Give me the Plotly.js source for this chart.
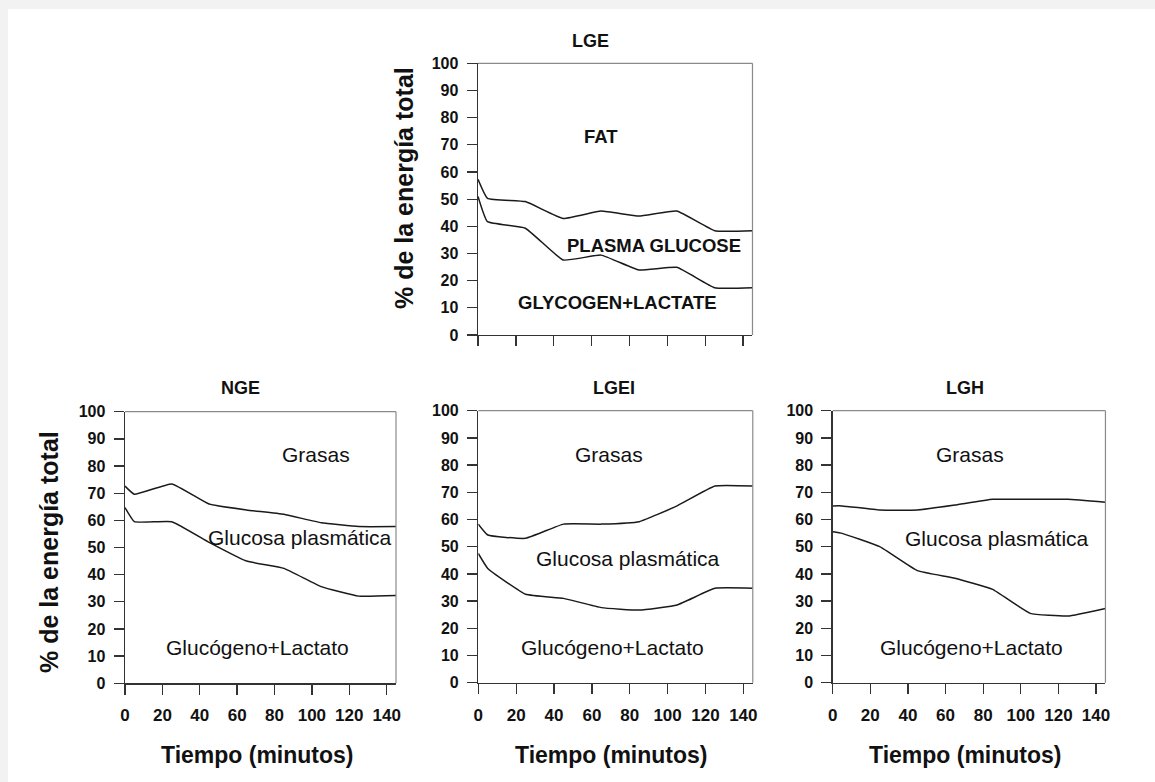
<!DOCTYPE html>
<html>
<head>
<meta charset="utf-8">
<script src="https://cdn.plot.ly/plotly-3.0.1.min.js"></script>
<style>html,body{margin:0;padding:0;background:#f2f2f2;}#chart{width:1155px;height:782px;}</style>
</head>
<body>
<div id="chart"></div>
<script>
// ---- data ----
const tiempo = [0, 5, 25, 45, 65, 85, 105, 125, 145];
const xTicks = [0, 20, 40, 60, 80, 100, 120, 140];
const yTicks = [0, 10, 20, 30, 40, 50, 60, 70, 80, 90, 100];

const panelNames = ["LGE", "NGE", "LGEI", "LGH"];

const lgeGrasaLimite = [57.3, 50.3, 49.1, 42.9, 45.6, 43.8, 45.6, 38.4, 38.4];
const lgeGlucogenoLimite = [51.0, 41.7, 39.3, 27.6, 29.4, 23.9, 24.9, 17.4, 17.4];

const ngeGrasaLimite = [72.6, 69.6, 73.4, 66.0, 63.8, 62.2, 59.1, 57.7, 57.7];
const ngeGlucogenoLimite = [64.7, 59.5, 59.5, 51.9, 45.0, 42.3, 35.6, 32.1, 32.3];

const lgeiGrasaLimite = [58.3, 54.3, 53.1, 58.3, 58.3, 59.2, 65.0, 72.3, 72.3];
const lgeiGlucogenoLimite = [47.5, 42.0, 32.5, 31.0, 27.6, 26.7, 28.6, 34.7, 34.7];

const lghGrasaLimite = [65.0, 65.0, 63.5, 63.5, 65.3, 67.4, 67.4, 67.4, 66.3];
const lghGlucogenoLimite = [55.5, 54.9, 50.0, 41.2, 38.4, 34.3, 25.5, 24.5, 27.3];

const topLabels = ["FAT", "PLASMA GLUCOSE", "GLYCOGEN+LACTATE"];
const bottomLabels = ["Grasas", "Glucosa plasmática", "Glucógeno+Lactato"];
const yTitle = "% de la energía total";
const xTitle = "Tiempo (minutos)";

// ---- layout helpers (pixel -> paper) ----
const W = 1155, H = 782;
const px = v => v / W;
const py = v => 1 - v / H;

const FONT = "Liberation Sans, Arial, Helvetica, sans-serif";
const lineStyle = {color: "#1a1a1a", width: 1.5, shape: "spline", smoothing: 0.35};

const series = [
  [lgeGrasaLimite, lgeGlucogenoLimite],
  [ngeGrasaLimite, ngeGlucogenoLimite],
  [lgeiGrasaLimite, lgeiGlucogenoLimite],
  [lghGrasaLimite, lghGlucogenoLimite]
];

// pixel frames: [x0 (t=0), pxPerMin, yBottom, yTop]
const frames = [
  [478, 1.893, 335, 63.3],
  [125, 1.869, 683.3, 411.7],
  [478.3, 1.893, 682.7, 410.7],
  [832.7, 1.881, 682.7, 410.7]
];
const XMAX = 145;

const traces = [];
const layout = {
  width: W, height: H,
  margin: {l: 0, r: 0, t: 0, b: 0},
  paper_bgcolor: "#f2f2f2",
  plot_bgcolor: "rgba(0,0,0,0)",
  showlegend: false,
  font: {family: FONT, color: "#111"},
  shapes: [
    {type: "rect", xref: "paper", yref: "paper", x0: px(8), x1: 1, y0: 0, y1: py(9),
     fillcolor: "#ffffff", line: {width: 0}, layer: "below"}
  ],
  annotations: []
};

frames.forEach((f, i) => {
  const n = i + 1;
  const xa = n === 1 ? "x" : "x" + n;
  const ya = n === 1 ? "y" : "y" + n;
  const xKey = n === 1 ? "xaxis" : "xaxis" + n;
  const yKey = n === 1 ? "yaxis" : "yaxis" + n;
  const [x0, s, yb, yt] = f;
  series[i].forEach(vals => {
    traces.push({x: tiempo, y: vals, xaxis: xa, yaxis: ya, type: "scatter",
      mode: "lines", line: lineStyle, hoverinfo: "skip"});
  });
  layout[xKey] = {
    domain: [px(x0), px(x0 + XMAX * s)], anchor: ya, range: [0, XMAX],
    tickvals: xTicks, ticktext: xTicks.map(String),
    showticklabels: n !== 1,
    ticks: "outside", ticklen: 10, tickwidth: 1.3, tickcolor: "#333",
    ticklabelstandoff: 6,
    showline: true, linecolor: "#333", linewidth: 1.4,
    showgrid: false, zeroline: false, fixedrange: true,
    tickfont: {family: FONT, size: 17, weight: "bold", color: "#111"}
  };
  layout[yKey] = {
    domain: [py(yb), py(yt)], anchor: xa, range: [0, 100],
    tickvals: yTicks, ticktext: yTicks.map(String),
    ticks: "outside", ticklen: 10, tickwidth: 1.3, tickcolor: "#333",
    ticklabelstandoff: 5,
    showline: true, linecolor: "#333", linewidth: 1.4,
    showgrid: false, zeroline: false, fixedrange: true,
    tickfont: {family: FONT, size: 16, weight: "bold", color: "#111"}
  };
  // top & right frame (lighter)
  layout.shapes.push({type: "line", xref: xa + " domain", yref: ya + " domain",
    x0: 0, x1: 1, y0: 1, y1: 1, line: {color: "#8a8a8a", width: 1.2}});
  layout.shapes.push({type: "line", xref: xa + " domain", yref: ya + " domain",
    x0: 1, x1: 1, y0: 0, y1: 1, line: {color: "#8a8a8a", width: 1.2}});
});

const ann = (x, y, text, size, bold, extra) => Object.assign({
  xref: "paper", yref: "paper", x: px(x), y: py(y), text: text, showarrow: false,
  xanchor: "center", yanchor: "middle",
  font: {family: FONT, size: size, weight: bold ? "bold" : "normal", color: "#111"}
}, extra || {});

// panel titles
layout.annotations.push(ann(591, 41, panelNames[0], 18, true));
layout.annotations.push(ann(240, 388, panelNames[1], 18, true));
layout.annotations.push(ann(614, 388, panelNames[2], 18, true));
layout.annotations.push(ann(965, 388, panelNames[3], 18, true));

// axis titles
layout.annotations.push(ann(404, 188, yTitle, 25, true, {textangle: -90}));
layout.annotations.push(ann(49, 552, yTitle, 25, true, {textangle: -90}));
layout.annotations.push(ann(257, 755, xTitle, 23, true));
layout.annotations.push(ann(611, 755, xTitle, 23, true));
layout.annotations.push(ann(965, 755, xTitle, 23, true));

// region labels
layout.annotations.push(ann(601, 137, topLabels[0], 18.5, true));
layout.annotations.push(ann(654, 246, topLabels[1], 18.5, true));
layout.annotations.push(ann(617, 302, topLabels[2], 18.5, true));

const bottomPos = [
  [[316, 454], [300, 537], [257, 647]],
  [[609, 454], [628, 558], [612, 647]],
  [[970, 454], [997, 538], [971, 647]]
];
bottomPos.forEach(p => {
  p.forEach((xy, k) => layout.annotations.push(ann(xy[0], xy[1], bottomLabels[k], 21, false)));
});

Plotly.newPlot("chart", traces, layout, {displayModeBar: false, staticPlot: true});
</script>
</body>
</html>
